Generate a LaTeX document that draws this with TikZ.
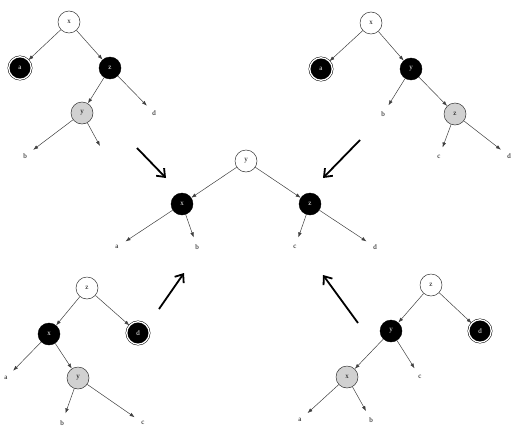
\documentclass[tikz,border=0pt]{standalone}
\usepackage{fontspec}
\setmainfont{Liberation Serif}
\usetikzlibrary{arrows.meta}
\begin{document}
\begin{tikzpicture}[x=1pt,y=-1pt,
  every node/.style={font=\scriptsize},
  wnode/.style={circle,draw=black!80,line width=0.5pt,fill=white,minimum size=22pt,inner sep=0pt},
  bnode/.style={circle,draw=black,fill=black,text=white,minimum size=22pt,inner sep=0pt},
  gnode/.style={circle,draw=black!80,line width=0.5pt,fill=black!18,minimum size=22pt,inner sep=0pt},
  dnode/.style={circle,draw=black,double=white,double distance=1.3pt,line width=0.5pt,fill=black,text=white,minimum size=22.5pt,inner sep=0pt},
  lbl/.style={circle,inner sep=0pt,minimum size=20pt},
  edge/.style={draw=black!75,line width=0.5pt,-{Latex[length=5pt,width=3.6pt]}},
  big/.style={draw=black,line width=1.8pt,-{Straight Barb[length=7pt,width=11pt]}}
]
\useasboundingbox (0,0) rectangle (513,431);

% Top-left tree
\node[wnode] (TLx) at (69,22) {x};
\node[dnode] (TLa) at (20,68) {a};
\node[bnode] (TLz) at (110,68) {z};
\node[gnode] (TLy) at (82,113) {y};
\node[lbl] (TLd) at (154,113) {d};
\node[lbl] (TLb) at (25,156) {b};
\coordinate (TLe) at (100,146);
\draw[edge] (TLx) -- (TLa);
\draw[edge] (TLx) -- (TLz);
\draw[edge] (TLz) -- (TLy);
\draw[edge] (TLz) -- (TLd);
\draw[edge] (TLy) -- (TLb);
\draw[edge] (TLy) -- (TLe);

% Top-right tree
\node[wnode] (TRx) at (371,23) {x};
\node[dnode] (TRa) at (321,69) {a};
\node[bnode] (TRy) at (411,69) {y};
\node[lbl] (TRb) at (383,114) {b};
\node[gnode] (TRz) at (455,114) {z};
\node[lbl] (TRc) at (439,157) {c};
\node[lbl] (TRd) at (509,156) {d};
\draw[edge] (TRx) -- (TRa);
\draw[edge] (TRx) -- (TRy);
\draw[edge] (TRy) -- (TRb);
\draw[edge] (TRy) -- (TRz);
\draw[edge] (TRz) -- (TRc);
\draw[edge] (TRz) -- (TRd);

% Center tree
\node[wnode] (Cy) at (246,161) {y};
\node[bnode] (Cx) at (182,204) {x};
\node[bnode] (Cz) at (310,204) {z};
\node[lbl] (Ca) at (117,247) {a};
\node[lbl] (Cb) at (197,247) {b};
\node[lbl] (Cc) at (295,247) {c};
\node[lbl] (Cd) at (375,247) {d};
\draw[edge] (Cy) -- (Cx);
\draw[edge] (Cy) -- (Cz);
\draw[edge] (Cx) -- (Ca);
\draw[edge] (Cx) -- (Cb);
\draw[edge] (Cz) -- (Cc);
\draw[edge] (Cz) -- (Cd);

% Bottom-left tree
\node[wnode] (BLz) at (87,288) {z};
\node[bnode] (BLx) at (49,334) {x};
\node[dnode] (BLd) at (138,333) {d};
\node[lbl] (BLa) at (6,378) {a};
\node[gnode] (BLy) at (78,378) {y};
\node[lbl] (BLb) at (62,423) {b};
\node[lbl] (BLc) at (143,423) {c};
\draw[edge] (BLz) -- (BLx);
\draw[edge] (BLz) -- (BLd);
\draw[edge] (BLx) -- (BLa);
\draw[edge] (BLx) -- (BLy);
\draw[edge] (BLy) -- (BLb);
\draw[edge] (BLy) -- (BLc);

% Bottom-right tree
\node[wnode] (BRz) at (431,285) {z};
\node[bnode] (BRy) at (391,331) {y};
\node[dnode] (BRd) at (480,331) {d};
\node[gnode] (BRx) at (347,377) {x};
\node[lbl] (BRc) at (420,377) {c};
\node[lbl] (BRa) at (300,420) {a};
\node[lbl] (BRb) at (371,420) {b};
\draw[edge] (BRz) -- (BRy);
\draw[edge] (BRz) -- (BRd);
\draw[edge] (BRy) -- (BRx);
\draw[edge] (BRy) -- (BRc);
\draw[edge] (BRx) -- (BRa);
\draw[edge] (BRx) -- (BRb);

% Transformation arrows
\coordinate (A1s) at (137,148); \coordinate (A1e) at (166,178);
\coordinate (A2s) at (360,140); \coordinate (A2e) at (323,178);
\coordinate (A3s) at (159,309); \coordinate (A3e) at (184,273);
\coordinate (A4s) at (358,323); \coordinate (A4e) at (323,275);
\draw[big] (A1s) -- (A1e);
\draw[big] (A2s) -- (A2e);
\draw[big] (A3s) -- (A3e);
\draw[big] (A4s) -- (A4e);
\end{tikzpicture}
\end{document}
